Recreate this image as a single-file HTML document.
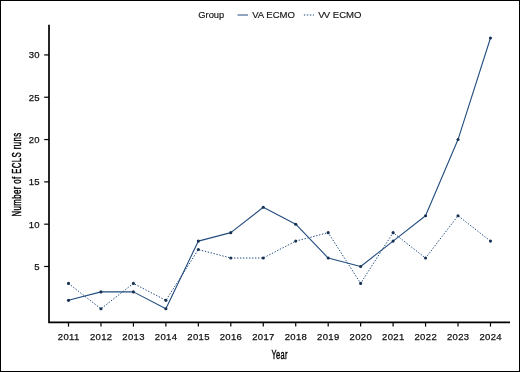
<!DOCTYPE html>
<html><head><meta charset="utf-8"><title>ECLS runs</title>
<style>
html,body{margin:0;padding:0;background:#fff;}
body{width:520px;height:372px;overflow:hidden;}
svg{display:block;}
text{font-family:"Liberation Sans",Arial,Helvetica,sans-serif;fill:#111;}
.t{font-size:9.5px;letter-spacing:0.35px;stroke:#111;stroke-width:0.25px;}
.l{font-size:9.35px;stroke:#111;stroke-width:0.15px;}
.a{font-size:12px;fill:#000;stroke:#000;stroke-width:0.42px;letter-spacing:0.6px;}
</style></head><body>
<svg width="520" height="372" viewBox="0 0 520 372">
<rect x="0" y="0" width="520" height="372" fill="#fff"/>
<rect x="0.5" y="0.5" width="519" height="371" fill="none" stroke="#000" stroke-width="1"/>

<path d="M49 24.7V322.3H510" fill="none" stroke="#000" stroke-width="1.7"/>
<line x1="44.2" x2="49" y1="266.49" y2="266.49" stroke="#000" stroke-width="1.2"/>
<text class="t" x="40" y="269.89" text-anchor="end">5</text>
<line x1="44.2" x2="49" y1="224.18" y2="224.18" stroke="#000" stroke-width="1.2"/>
<text class="t" x="40" y="227.58" text-anchor="end">10</text>
<line x1="44.2" x2="49" y1="181.86" y2="181.86" stroke="#000" stroke-width="1.2"/>
<text class="t" x="40" y="185.26" text-anchor="end">15</text>
<line x1="44.2" x2="49" y1="139.55" y2="139.55" stroke="#000" stroke-width="1.2"/>
<text class="t" x="40" y="142.95" text-anchor="end">20</text>
<line x1="44.2" x2="49" y1="97.24" y2="97.24" stroke="#000" stroke-width="1.2"/>
<text class="t" x="40" y="100.64" text-anchor="end">25</text>
<line x1="44.2" x2="49" y1="54.93" y2="54.93" stroke="#000" stroke-width="1.2"/>
<text class="t" x="40" y="58.33" text-anchor="end">30</text>
<line x1="68.5" x2="68.5" y1="322.3" y2="326.6" stroke="#000" stroke-width="1.2"/>
<text class="t" x="68.7" y="340.3" text-anchor="middle">2011</text>
<line x1="100.96" x2="100.96" y1="322.3" y2="326.6" stroke="#000" stroke-width="1.2"/>
<text class="t" x="101.16" y="340.3" text-anchor="middle">2012</text>
<line x1="133.42" x2="133.42" y1="322.3" y2="326.6" stroke="#000" stroke-width="1.2"/>
<text class="t" x="133.61999999999998" y="340.3" text-anchor="middle">2013</text>
<line x1="165.88" x2="165.88" y1="322.3" y2="326.6" stroke="#000" stroke-width="1.2"/>
<text class="t" x="166.07999999999998" y="340.3" text-anchor="middle">2014</text>
<line x1="198.34" x2="198.34" y1="322.3" y2="326.6" stroke="#000" stroke-width="1.2"/>
<text class="t" x="198.54" y="340.3" text-anchor="middle">2015</text>
<line x1="230.8" x2="230.8" y1="322.3" y2="326.6" stroke="#000" stroke-width="1.2"/>
<text class="t" x="231.0" y="340.3" text-anchor="middle">2016</text>
<line x1="263.26" x2="263.26" y1="322.3" y2="326.6" stroke="#000" stroke-width="1.2"/>
<text class="t" x="263.46" y="340.3" text-anchor="middle">2017</text>
<line x1="295.72" x2="295.72" y1="322.3" y2="326.6" stroke="#000" stroke-width="1.2"/>
<text class="t" x="295.92" y="340.3" text-anchor="middle">2018</text>
<line x1="328.18" x2="328.18" y1="322.3" y2="326.6" stroke="#000" stroke-width="1.2"/>
<text class="t" x="328.38" y="340.3" text-anchor="middle">2019</text>
<line x1="360.64" x2="360.64" y1="322.3" y2="326.6" stroke="#000" stroke-width="1.2"/>
<text class="t" x="360.84" y="340.3" text-anchor="middle">2020</text>
<line x1="393.1" x2="393.1" y1="322.3" y2="326.6" stroke="#000" stroke-width="1.2"/>
<text class="t" x="393.3" y="340.3" text-anchor="middle">2021</text>
<line x1="425.56" x2="425.56" y1="322.3" y2="326.6" stroke="#000" stroke-width="1.2"/>
<text class="t" x="425.76" y="340.3" text-anchor="middle">2022</text>
<line x1="458.02" x2="458.02" y1="322.3" y2="326.6" stroke="#000" stroke-width="1.2"/>
<text class="t" x="458.21999999999997" y="340.3" text-anchor="middle">2023</text>
<line x1="490.48" x2="490.48" y1="322.3" y2="326.6" stroke="#000" stroke-width="1.2"/>
<text class="t" x="490.68" y="340.3" text-anchor="middle">2024</text>
<path d="M68.5 300.34 L100.96 291.88 L133.42 291.88 L165.88 308.8 L198.34 241.1 L230.8 232.64 L263.26 207.25 L295.72 224.18 L328.18 258.02 L360.64 266.49 L393.1 241.1 L425.56 215.71 L458.02 139.55 L490.48 38.0" fill="none" stroke="#214c7e" stroke-width="1.1" stroke-linejoin="round"/>
<path d="M68.5 283.41 L100.96 308.8 L133.42 283.41 L165.88 300.34 L198.34 249.56 L230.8 258.02 L263.26 258.02 L295.72 241.1 L328.18 232.64 L360.64 283.41 L393.1 232.64 L425.56 258.02 L458.02 215.71 L490.48 241.1" fill="none" stroke="#214c7e" stroke-width="1" stroke-dasharray="1.4 1.6" stroke-linejoin="round"/>
<circle cx="68.5" cy="300.34" r="1.55" fill="#173152"/>
<circle cx="100.96" cy="291.88" r="1.55" fill="#173152"/>
<circle cx="133.42" cy="291.88" r="1.55" fill="#173152"/>
<circle cx="165.88" cy="308.8" r="1.55" fill="#173152"/>
<circle cx="198.34" cy="241.1" r="1.55" fill="#173152"/>
<circle cx="230.8" cy="232.64" r="1.55" fill="#173152"/>
<circle cx="263.26" cy="207.25" r="1.55" fill="#173152"/>
<circle cx="295.72" cy="224.18" r="1.55" fill="#173152"/>
<circle cx="328.18" cy="258.02" r="1.55" fill="#173152"/>
<circle cx="360.64" cy="266.49" r="1.55" fill="#173152"/>
<circle cx="393.1" cy="241.1" r="1.55" fill="#173152"/>
<circle cx="425.56" cy="215.71" r="1.55" fill="#173152"/>
<circle cx="458.02" cy="139.55" r="1.55" fill="#173152"/>
<circle cx="490.48" cy="38.0" r="1.55" fill="#173152"/>
<circle cx="68.5" cy="283.41" r="1.55" fill="#173152"/>
<circle cx="100.96" cy="308.8" r="1.55" fill="#173152"/>
<circle cx="133.42" cy="283.41" r="1.55" fill="#173152"/>
<circle cx="165.88" cy="300.34" r="1.55" fill="#173152"/>
<circle cx="198.34" cy="249.56" r="1.55" fill="#173152"/>
<circle cx="230.8" cy="258.02" r="1.55" fill="#173152"/>
<circle cx="263.26" cy="258.02" r="1.55" fill="#173152"/>
<circle cx="295.72" cy="241.1" r="1.55" fill="#173152"/>
<circle cx="328.18" cy="232.64" r="1.55" fill="#173152"/>
<circle cx="360.64" cy="283.41" r="1.55" fill="#173152"/>
<circle cx="393.1" cy="232.64" r="1.55" fill="#173152"/>
<circle cx="425.56" cy="258.02" r="1.55" fill="#173152"/>
<circle cx="458.02" cy="215.71" r="1.55" fill="#173152"/>
<circle cx="490.48" cy="241.1" r="1.55" fill="#173152"/>
<text class="l" x="198.3" y="17.8">Group</text>
<line x1="237.5" x2="248" y1="15" y2="15" stroke="#214c7e" stroke-width="1"/>
<text class="l" x="252.2" y="17.8" style="font-size:9.55px">VA ECMO</text>
<line x1="303.9" x2="314" y1="15" y2="15" stroke="#214c7e" stroke-width="1" stroke-dasharray="1.4 1.6"/>
<text class="l" x="318.3" y="17.8" style="font-size:9.55px">V<tspan dx="-0.9">V</tspan> ECMO</text>
<text class="a" transform="translate(279.7 358.8) scale(0.62 1)" text-anchor="middle">Year</text>
<text class="a" transform="translate(20.7 174.5) rotate(-90) scale(0.655 1)" text-anchor="middle">Number of ECLS runs</text>
</svg></body></html>
